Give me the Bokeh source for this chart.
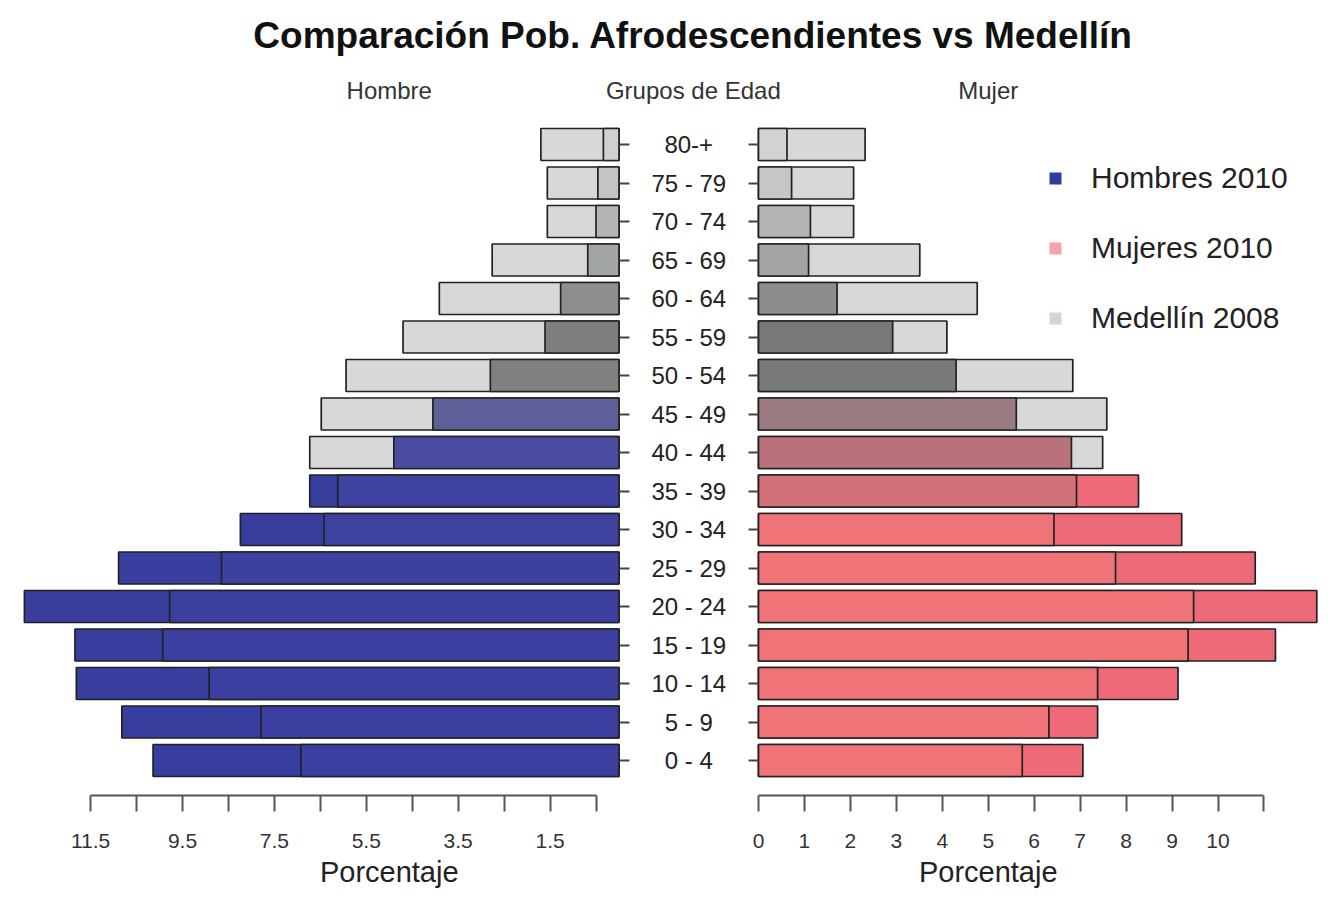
from bokeh.plotting import figure
from bokeh.models import (Range1d, LinearAxis, FixedTicker, ColumnDataSource,
                          Legend, LegendItem)
from bokeh.core.properties import value
from bokeh.embed import file_html
from bokeh.resources import INLINE

# ---------------- data (percent of population) ----------------
ages = ["0 - 4", "5 - 9", "10 - 14", "15 - 19", "20 - 24", "25 - 29", "30 - 34",
        "35 - 39", "40 - 44", "45 - 49", "50 - 54", "55 - 59", "60 - 64",
        "65 - 69", "70 - 74", "75 - 79", "80-+"]
hombres_2010 = [10.14, 10.82, 11.81, 11.84, 12.94, 10.89, 8.24, 6.73, 4.90,
                4.05, 2.80, 1.61, 1.27, 0.68, 0.50, 0.46, 0.34]
hombres_medellin_2008 = [6.92, 7.79, 8.92, 9.93, 9.78, 8.65, 6.42, 6.12, 6.73,
                         6.48, 5.94, 4.70, 3.91, 2.76, 1.56, 1.56, 1.70]
mujeres_2010 = [7.06, 7.38, 9.13, 11.25, 12.15, 10.81, 9.21, 8.27, 6.81,
                5.61, 4.30, 2.92, 1.71, 1.09, 1.13, 0.72, 0.62]
mujeres_medellin_2008 = [5.74, 6.32, 7.38, 9.35, 9.47, 7.77, 6.43, 6.92, 7.49,
                         7.58, 6.84, 4.10, 4.76, 3.51, 2.07, 2.07, 2.32]
left_tick_labeled = [1.5, 3.5, 5.5, 7.5, 9.5, 11.5]
left_tick_unlabeled = [0.5, 2.5, 4.5, 6.5, 8.5, 10.5]
right_tick_labeled = [0, 1, 2, 3, 4, 5, 6, 7, 8, 9, 10]
right_tick_unlabeled = [11]
legend_labels = ["Hombres 2010", "Mujeres 2010", "Medellín 2008"]
title_text = "Comparación Pob. Afrodescendientes vs Medellín"
header_texts = ["Hombre", "Grupos de Edad", "Mujer"]
axis_title = "Porcentaje"

# ---------------- styles ----------------
FONT = "Liberation Sans"
BLUE = "#373e9e"
PINK = "#ee6a78"
MED_GRAY = "#d8d8d8"
men_overlap_colors = ["#3b40a0", "#3b40a0", "#3b40a0", "#3b40a0", "#3b40a0",
                      "#3c41a0", "#3d42a1", "#3e43a2", "#4a4ca2", "#5e5f98",
                      "#808080", "#7e7e7e", "#8e8e8e", "#a2a5a5", "#b5b5b5",
                      "#c4c4c4", "#d0d0d0"]
women_overlap_colors = ["#f07378", "#f07378", "#f07378", "#f07378", "#f07378",
                        "#f07378", "#f07378", "#d27179", "#b9727a", "#9b7a80",
                        "#797b7b", "#777979", "#8c8e8e", "#a3a5a5", "#b5b5b5",
                        "#c6c6c6", "#d2d2d2"]
legend_colors = ["#2e3fa0", "#f4a3ae", "#d9d2d2"]

# ---------------- layout geometry (pixels in the figure) ----------------
W, H = 1318, 890
PX_UNIT = 45.95
ROW_PX = 38.5
X_LEFT_ZERO = 618.5
X_RIGHT_ZERO = 758.0
X_CENTER = (X_LEFT_ZERO + X_RIGHT_ZERO) / 2
Y_ROW0 = 760.0

def ydata(py):
    return (Y_ROW0 - py) / ROW_PX

p = figure(width=W, height=H, output_backend="svg", toolbar_location=None,
           x_axis_location=None, y_axis_location=None, min_border=0,
           x_range=Range1d(-X_CENTER / PX_UNIT, (W - X_CENTER) / PX_UNIT),
           y_range=Range1d(ydata(H), ydata(0)))
p.extra_x_ranges = {
    "left": Range1d(X_LEFT_ZERO / PX_UNIT, (X_LEFT_ZERO - W) / PX_UNIT),
    "right": Range1d(-X_RIGHT_ZERO / PX_UNIT, (W - X_RIGHT_ZERO) / PX_UNIT),
}
p.outline_line_color = None
p.xgrid.visible = False
p.ygrid.visible = False
p.background_fill_color = "white"
p.border_fill_color = "white"

idx = list(range(len(ages)))
BAR_H = 0.83

def side(a_vals, m_vals, outer_major, overlap_colors, rng):
    outer = [max(a, m) for a, m in zip(a_vals, m_vals)]
    inner = [min(a, m) for a, m in zip(a_vals, m_vals)]
    outer_col = [MED_GRAY if m > a else outer_major for a, m in zip(a_vals, m_vals)]
    src_o = ColumnDataSource(dict(y=idx, v=outer, c=outer_col))
    src_i = ColumnDataSource(dict(y=idx, v=inner, c=overlap_colors))
    for src in (src_o, src_i):
        p.hbar(y="y", left=0, right="v", height=BAR_H, source=src,
               fill_color="c", line_color="#222222", line_width=1.7,
               x_range_name=rng)

side(hombres_2010, hombres_medellin_2008, BLUE, men_overlap_colors, "left")
side(mujeres_2010, mujeres_medellin_2008, PINK, women_overlap_colors, "right")

# title
p.text(x=[0.1], y=[ydata(35)], text=[title_text], text_align="center",
       text_baseline="middle", text_font=value(FONT), text_font_size="37px",
       text_font_style="bold", text_color="#111111")

# age group labels in the middle
p.text(x=[0] * len(ages), y=idx, text=ages, text_align="center",
       text_baseline="middle", text_font=value(FONT), text_font_size="24px",
       text_color="#222222")

# headers
p.text(x=[5.0], y=[ydata(90)], text=[header_texts[0]], x_range_name="left",
       text_align="center", text_baseline="middle", text_font=value(FONT),
       text_font_size="24px", text_color="#333333")
p.text(x=[0.1], y=[ydata(90)], text=[header_texts[1]],
       text_align="center", text_baseline="middle", text_font=value(FONT),
       text_font_size="24px", text_color="#333333")
p.text(x=[5.0], y=[ydata(90)], text=[header_texts[2]], x_range_name="right",
       text_align="center", text_baseline="middle", text_font=value(FONT),
       text_font_size="24px", text_color="#333333")

# axis titles
for rng in ("left", "right"):
    p.text(x=[5.0], y=[ydata(871)], text=[axis_title], x_range_name=rng,
           text_align="center", text_baseline="middle", text_font=value(FONT),
           text_font_size="29px", text_color="#222222")

AXIS_Y = ydata(795)

def style_x_axis(ax):
    ax.axis_line_width = 2
    ax.axis_line_color = "#555555"
    ax.major_tick_line_width = 2
    ax.major_tick_line_color = "#555555"
    ax.minor_tick_line_width = 2
    ax.minor_tick_line_color = "#555555"
    ax.major_tick_out = 16
    ax.major_tick_in = 0
    ax.minor_tick_out = 16
    ax.minor_tick_in = 0
    ax.major_label_text_font = FONT
    ax.major_label_text_font_size = "21px"
    ax.major_label_text_color = "#333333"
    ax.major_label_standoff = 22

axL = LinearAxis(x_range_name="left", fixed_location=AXIS_Y, bounds=(0.5, 11.5),
                 ticker=FixedTicker(ticks=left_tick_labeled,
                                    minor_ticks=left_tick_unlabeled))
style_x_axis(axL)
p.add_layout(axL, "below")
axR = LinearAxis(x_range_name="right", fixed_location=AXIS_Y, bounds=(0, 11),
                 ticker=FixedTicker(ticks=right_tick_labeled,
                                    minor_ticks=right_tick_unlabeled))
style_x_axis(axR)
p.add_layout(axR, "below")

# small tick marks next to the age labels
def style_y_axis(ax):
    ax.axis_line_color = None
    ax.major_tick_out = 10
    ax.major_tick_in = 0
    ax.minor_tick_out = 0
    ax.minor_tick_in = 0
    ax.major_tick_line_width = 2
    ax.major_tick_line_color = "#444444"
    ax.major_label_text_color = None
    ax.major_label_text_font_size = "0px"

ayL = LinearAxis(x_range_name="left", fixed_location=0,
                 ticker=FixedTicker(ticks=idx))
style_y_axis(ayL)
p.add_layout(ayL, "right")
ayR = LinearAxis(x_range_name="right", fixed_location=0,
                 ticker=FixedTicker(ticks=idx))
style_y_axis(ayR)
p.add_layout(ayR, "left")

# legend (swatch-only renderers holding no visible point)
nan = float("nan")
items = []
for lab, col in zip(legend_labels, legend_colors):
    r = p.scatter(x=[nan], y=[nan], marker="square", size=12, fill_color=col,
                  line_color=None)
    items.append(LegendItem(label=lab, renderers=[r], index=0))
legend = Legend(items=items, location=(1040, 554), orientation="vertical",
                glyph_width=30, glyph_height=36, label_height=36,
                label_standoff=21, spacing=34, padding=0, margin=0,
                border_line_color=None, background_fill_alpha=0,
                label_text_font=FONT, label_text_font_size="30px",
                label_text_color="#222222")
p.add_layout(legend, "center")

open("out.html", "w").write(file_html(p, INLINE))
